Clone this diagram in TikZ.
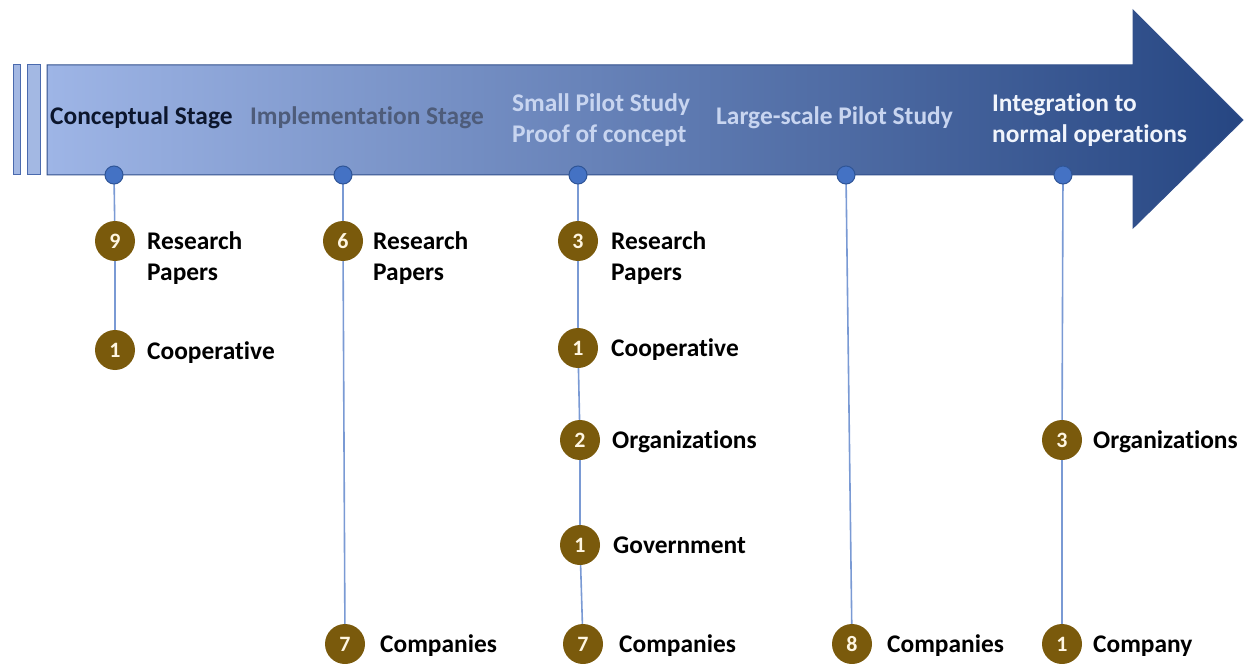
\documentclass[tikz,border=0pt]{standalone}
\usepackage{fontspec}
\setmainfont{Carlito}[Ligatures={TeX,NoCommon}, Contextuals=NoAlternate]
\usetikzlibrary{backgrounds}
\newcommand\tiSep{t\kern0pt i}
\definecolor{arrowL}{RGB}{158,181,230}
\definecolor{arrowM}{RGB}{72,114,200}
\definecolor{arrowR}{RGB}{38,70,130}
\definecolor{arrowEdge}{RGB}{50,80,140}
\definecolor{barFill}{RGB}{163,184,227}
\definecolor{barEdge}{RGB}{74,106,174}
\definecolor{dotFill}{RGB}{68,114,196}
\definecolor{dotEdge}{RGB}{47,85,151}
\definecolor{linkC}{RGB}{122,154,212}
\definecolor{brownC}{RGB}{122,90,12}
\definecolor{numTxt}{RGB}{255,246,225}
\definecolor{stA}{RGB}{12,22,45}
\definecolor{stB}{RGB}{78,92,122}
\definecolor{stC}{RGB}{200,213,240}
\definecolor{stD}{RGB}{240,244,252}
\begin{document}
\begin{tikzpicture}[x=1bp,y=-1bp,
  num/.style={circle, fill=brownC, text=numTxt, minimum size=40bp, inner sep=0pt,
    font=\bfseries\fontsize{22}{22}\selectfont},
  lab/.style={anchor=west, inner sep=0pt, align=left, text=black,
    text height=0.84em, text depth=0.2em,
    font=\bfseries\fontsize{25.5}{31}\selectfont},
  stage/.style={anchor=west, inner sep=0pt, align=left,
    text height=0.84em, text depth=0.2em,
    font=\bfseries\fontsize{25.5}{31}\selectfont},
  dot/.style={circle, fill=dotFill, draw=dotEdge, line width=1bp, minimum size=18bp, inner sep=0pt},
  link/.style={draw=linkC, line width=1.6bp}]
\useasboundingbox (0,0) rectangle (1253,664);
% left bars
\draw[fill=barFill, draw=barEdge, line width=1bp] (13,65) rectangle (20,175);
\draw[fill=barFill, draw=barEdge, line width=1bp] (27,65) rectangle (40,175);
% arrow
\shade[left color=arrowL, middle color=arrowM, right color=arrowR]
  (47,65) -- (1133,65) -- (1133,10) -- (1243,120) -- (1133,228) -- (1133,175) -- (47,175) -- cycle;
\draw[arrowEdge, line width=1bp]
  (47,65) -- (1133,65) -- (1133,10) -- (1243,120) -- (1133,228) -- (1133,175) -- (47,175) -- cycle;
% stage labels
\node[stage, text=stA] (s1) at (50,121) {Conceptual Stage};
\node[stage, text=stB] (s2) at (250,121) {Implementa\tiSep on Stage};
\node[stage, text=stC] (s3) at (512,139) {Small Pilot Study\\Proof of concept};
\node[stage, text=stC] (s4) at (716,121) {Large-scale Pilot Study};
\node[stage, text=stD] (s5) at (992,139) {Integra\tiSep on to\\normal opera\tiSep ons};
% dots
\node[dot] (d1) at (114,175) {};
\node[dot] (d2) at (343,175) {};
\node[dot] (d3) at (578,175) {};
\node[dot] (d4) at (846,175) {};
\node[dot] (d5) at (1063,175) {};
% column 1
\node[num] (n1a) at (115,241) {9};
\node[lab] (t1a) at (147,277) {Research\\Papers};
\node[num] (n1b) at (115,350) {1};
\node[lab] (t1b) at (147,356) {Coopera\tiSep ve};
% column 2
\node[num] (n2a) at (343,241) {6};
\node[lab] (t2a) at (373,277) {Research\\Papers};
\node[num] (n2b) at (345,644) {7};
\node[lab] (t2b) at (380,649) {Companies};
% column 3
\node[num] (n3a) at (578,241) {3};
\node[lab] (t3a) at (611,277) {Research\\Papers};
\node[num] (n3b) at (578,348) {1};
\node[lab] (t3b) at (611,353) {Coopera\tiSep ve};
\node[num] (n3c) at (580,440) {2};
\node[lab] (t3c) at (612,445) {Organiza\tiSep ons};
\node[num] (n3d) at (580,545) {1};
\node[lab] (t3d) at (613,550) {Government};
\node[num] (n3e) at (583,644) {7};
\node[lab] (t3e) at (619,649) {Companies};
% column 4
\node[num] (n4a) at (852,644) {8};
\node[lab] (t4a) at (887,649) {Companies};
% column 5
\node[num] (n5a) at (1062,440) {3};
\node[lab] (t5a) at (1093,445) {Organiza\tiSep ons};
\node[num] (n5b) at (1062,644) {1};
\node[lab] (t5b) at (1093,649) {Company};
% connectors
\begin{scope}[on background layer]
\draw[link] (d1.center) -- (n1a.center) -- (n1b.center);
\draw[link] (d2.center) -- (n2a.center) -- (n2b.center);
\draw[link] (d3.center) -- (n3a.center) -- (n3b.center) -- (n3c.center) -- (n3d.center) -- (n3e.center);
\draw[link] (d4.center) -- (n4a.center);
\draw[link] (d5.center) -- (n5a.center) -- (n5b.center);
\end{scope}
\end{tikzpicture}
\end{document}
